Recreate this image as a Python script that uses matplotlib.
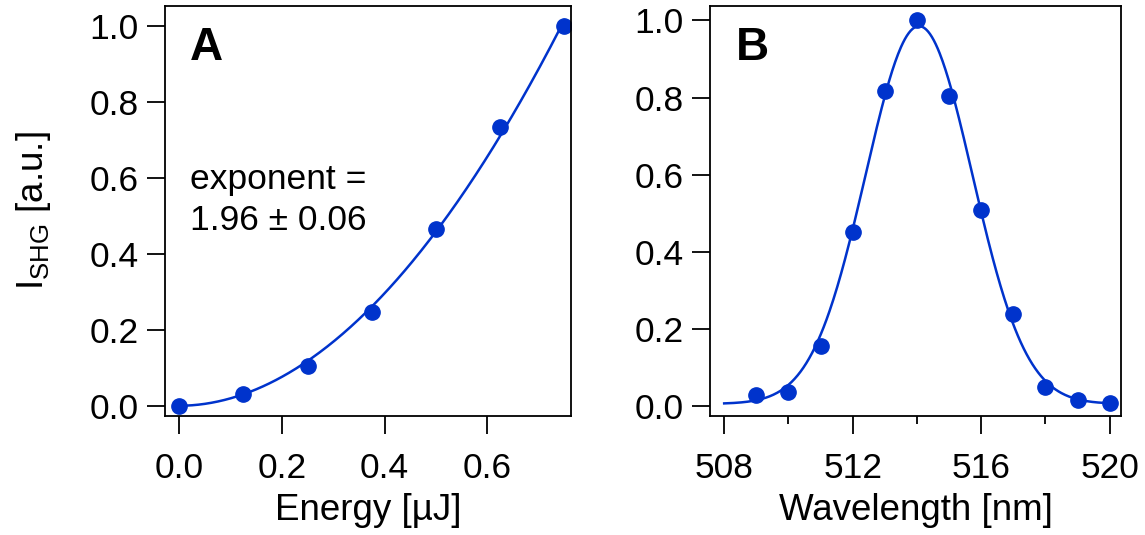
import numpy as np
import matplotlib
matplotlib.use('Agg')
import matplotlib.pyplot as plt
from matplotlib.ticker import MultipleLocator, FormatStrFormatter

plt.rcParams['font.family'] = ['Liberation Sans', 'DejaVu Sans']
plt.rcParams['mathtext.fontset'] = 'custom'
plt.rcParams['mathtext.rm'] = 'Liberation Sans'

# Panel A: SHG intensity vs pulse energy
energy = [0.0, 0.125, 0.25, 0.375, 0.5, 0.625, 0.75]
shg_energy = [0.0, 0.030, 0.105, 0.246, 0.466, 0.733, 1.0]
exponent = 1.96

# Panel B: SHG intensity vs wavelength
wavelength = [509, 510, 511, 512, 513, 514, 515, 516, 517, 518, 519, 520]
shg_wl = [0.029, 0.036, 0.154, 0.452, 0.818, 1.0, 0.805, 0.507, 0.237, 0.049, 0.015, 0.006]
baseline = 0.005

blue = '#0033cc'

# power-law fit with fixed exponent (amplitude by least squares)
xe = np.array(energy)
ye = np.array(shg_energy)
amp = np.sum(ye * xe**exponent) / np.sum(xe**(2 * exponent))
x_fit_a = np.linspace(0, max(energy), 300)
y_fit_a = amp * x_fit_a**exponent

# gaussian fit via weighted parabola on log
xw = np.array(wavelength, dtype=float)
yw = np.array(shg_wl) - baseline
m = yw > 0.1
c2, c1, c0 = np.polyfit(xw[m], np.log(yw[m]), 2, w=yw[m])
x_fit_b = np.linspace(508, 520, 400)
y_fit_b = baseline + np.exp(c0 + c1 * x_fit_b + c2 * x_fit_b**2)

fig = plt.figure(figsize=(11.45, 5.35), dpi=100)
ax1 = fig.add_axes([0.1441, 0.2224, 0.3546, 0.766])
ax2 = fig.add_axes([0.6204, 0.2224, 0.3583, 0.766])

for ax in (ax1, ax2):
    for s in ax.spines.values():
        s.set_linewidth(1.3)
    ax.tick_params(which='major', direction='out', length=13, width=1.3,
                   labelsize=25.5, color='black')
    ax.tick_params(which='minor', direction='out', length=6, width=1.3)
    ax.tick_params(axis='x', pad=13)
    ax.tick_params(axis='y', pad=6)
    ax.yaxis.set_major_locator(MultipleLocator(0.2))
    ax.yaxis.set_major_formatter(FormatStrFormatter('%.1f'))

# Panel A
ax1.plot(x_fit_a, y_fit_a, color=blue, lw=1.8)
ax1.plot(energy, shg_energy, 'o', color=blue, ms=11)
ax1.set_xlim(-0.0277, 0.763)
ax1.set_ylim(-0.027, 1.051)
ax1.set_xticks([0.0, 0.2, 0.4, 0.6])
ax1.xaxis.set_major_formatter(FormatStrFormatter('%.1f'))
ax1.set_xlabel('Energy [µJ]', fontsize=26.5, labelpad=6)
ax1.set_ylabel(r'I$_{\mathrm{SHG}}$ [a.u.]', fontsize=26.5, labelpad=26)
ax1.text(0.062, 0.898, 'A', transform=ax1.transAxes, fontsize=33,
         fontweight='bold', va='center', ha='left')
ax1.text(0.062, 0.577, 'exponent =', transform=ax1.transAxes, fontsize=25.5,
         va='center', ha='left')
ax1.text(0.062, 0.477, '1.96 ± 0.06', transform=ax1.transAxes, fontsize=25.5,
         va='center', ha='left')

# Panel B
ax2.plot(x_fit_b, y_fit_b, color=blue, lw=1.8)
ax2.plot(wavelength, shg_wl, 'o', color=blue, ms=11)
ax2.set_xlim(507.57, 520.34)
ax2.set_ylim(-0.0265, 1.037)
ax2.xaxis.set_major_locator(MultipleLocator(4))
ax2.xaxis.set_minor_locator(MultipleLocator(2))
ax2.set_xlabel('Wavelength [nm]', fontsize=26.5, labelpad=6)
ax2.text(0.062, 0.898, 'B', transform=ax2.transAxes, fontsize=33,
         fontweight='bold', va='center', ha='left')

fig.savefig('out.png', dpi=100)
